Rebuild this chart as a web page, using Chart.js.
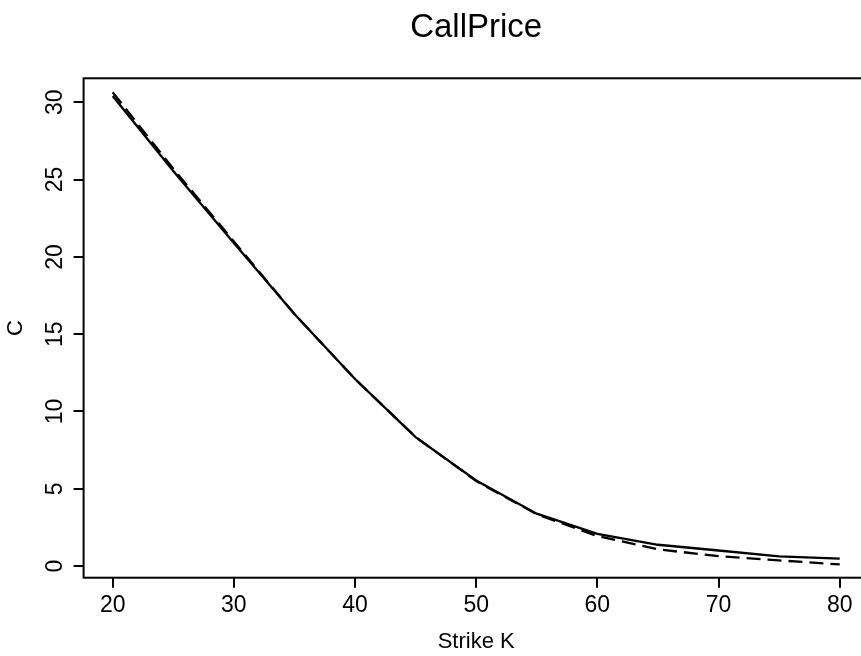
<!DOCTYPE html>
<html lang="en">
<head>
  <meta charset="UTF-8" />
  <title>CallPrice</title>
  <script src="https://cdn.jsdelivr.net/npm/chart.js"></script>
  <style>
    html, body {
      margin: 0;
      padding: 0;
      overflow: hidden;
      background: #fff;
    }
    canvas {
      display: block;
    }
  </style>
</head>
<body>
  <canvas id="callChart" width="880" height="656"></canvas>

  <script>
    // strike prices and the two call price curves
    const strikes = [20, 25, 30, 35, 40, 45, 50, 55, 60, 65, 70, 75, 80];
    const callSolid = [30.4, 25.55, 20.9, 16.3, 12.1, 8.34, 5.54, 3.39, 2.09, 1.38, 1.01, 0.63, 0.48];
    const callDashed = [30.65, 25.7, 21.0, 16.3, 12.1, 8.35, 5.5, 3.35, 1.94, 1.08, 0.65, 0.37, 0.11];

    const xTicks = [20, 30, 40, 50, 60, 70, 80];
    const yTicks = [0, 5, 10, 15, 20, 25, 30];

    const FONT = '"Liberation Sans", Arial, Helvetica, sans-serif';
    Chart.defaults.font.family = FONT;
    Chart.defaults.color = '#000';

    // box, rotated y labels and titles like base R graphics
    const rStyle = {
      id: 'rStyle',
      afterDraw(chart) {
        const { ctx, chartArea: a, scales } = chart;
        const midX = (a.left + a.right) / 2;
        ctx.save();
        ctx.strokeStyle = '#000';
        ctx.lineWidth = 2;
        ctx.strokeRect(a.left, a.top, a.right - a.left, a.bottom - a.top);

        ctx.fillStyle = '#000';
        ctx.textAlign = 'center';
        ctx.textBaseline = 'alphabetic';

        ctx.font = '23px ' + FONT;
        yTicks.forEach(v => {
          const y = scales.y.getPixelForValue(v);
          ctx.save();
          ctx.translate(62, y);
          ctx.rotate(-Math.PI / 2);
          ctx.fillText(String(v), 0, 0);
          ctx.restore();
        });

        ctx.font = '22px ' + FONT;
        ctx.save();
        ctx.translate(22, (a.top + a.bottom) / 2);
        ctx.rotate(-Math.PI / 2);
        ctx.fillText('C', 0, 0);
        ctx.restore();

        ctx.fillText('Strike K', midX, 648);

        ctx.font = '33px ' + FONT;
        ctx.fillText('CallPrice', midX, 37);
        ctx.restore();
      }
    };

    const axisGrid = {
      drawOnChartArea: false,
      drawTicks: true,
      tickLength: 10,
      color: '#000',
      lineWidth: 2
    };

    const ctx = document.getElementById('callChart').getContext('2d');
    const chart = new Chart(ctx, {
      type: 'line',
      data: {
        datasets: [
          {
            label: 'dashed',
            data: strikes.map((k, i) => ({ x: k, y: callDashed[i] })),
            borderColor: '#000',
            borderWidth: 2.3,
            borderDash: [14, 7],
            pointRadius: 0,
            tension: 0,
            fill: false
          },
          {
            label: 'solid',
            data: strikes.map((k, i) => ({ x: k, y: callSolid[i] })),
            borderColor: '#000',
            borderWidth: 2.3,
            pointRadius: 0,
            tension: 0,
            fill: false
          }
        ]
      },
      options: {
        responsive: false,
        animation: false,
        layout: { padding: { top: 78.3, right: 11.2, left: 0, bottom: 0 } },
        plugins: {
          legend: { display: false },
          tooltip: { enabled: false },
          title: { display: false }
        },
        scales: {
          x: {
            type: 'linear',
            min: 17.6,
            max: 82.4,
            afterBuildTicks: s => { s.ticks = xTicks.map(v => ({ value: v })); },
            afterFit: s => { s.height = 78.3; },
            ticks: { color: '#000', font: { size: 23 }, padding: 4, maxRotation: 0, autoSkip: false },
            grid: axisGrid,
            border: { display: false }
          },
          y: {
            type: 'linear',
            min: -0.75,
            max: 31.55,
            afterBuildTicks: s => { s.ticks = yTicks.map(v => ({ value: v })); },
            afterFit: s => { s.width = 83.6; },
            ticks: { display: false },
            grid: axisGrid,
            border: { display: false }
          }
        }
      },
      plugins: [rStyle]
    });
  </script>
</body>
</html>
